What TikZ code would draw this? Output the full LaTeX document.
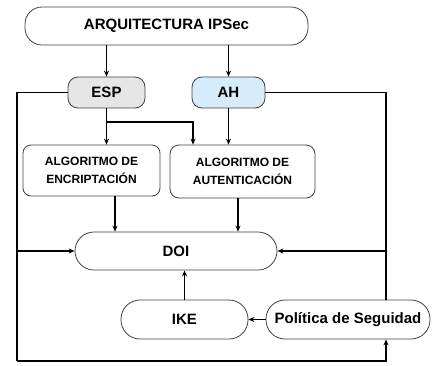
\documentclass[tikz,border=0pt]{standalone}
\usepackage{fontspec}
\setmainfont{Liberation Sans}
\usetikzlibrary{arrows.meta,calc}
\definecolor{espgray}{RGB}{230,230,230}
\definecolor{ahblue}{RGB}{214,236,250}
\tikzset{
  caja/.style={draw=black!75,line width=0.8pt,align=center,inner sep=0pt,
    font=\bfseries\fontsize{15}{16}\selectfont},
  flecha/.style={->,line width=1.6pt},
  linea/.style={line width=1.6pt}
}

\begin{document}
\begin{tikzpicture}[x=1pt,y=-1pt,>={Stealth[length=6pt,width=5pt]}]
  \useasboundingbox (0,0) rectangle (434,365);
  % ノード
  \node[caja,rounded corners=17pt,minimum width=283pt,minimum height=38pt] (ARQ) at (166.5,26) {ARQUITECTURA IPSec};
  \node[caja,rounded corners=10pt,fill=espgray,minimum width=77pt,minimum height=31pt] (ESP) at (106.5,92.5) {ESP};
  \node[caja,rounded corners=10pt,fill=ahblue,minimum width=73pt,minimum height=31pt] (AH) at (228.5,92.5) {AH};
  \node[caja,rounded corners=8pt,minimum width=137pt,minimum height=51pt,
    font=\bfseries\fontsize{12}{18}\selectfont] (ALGENC) at (91.5,170.5) {ALGORITMO DE\\ENCRIPTACIÓN};
  \node[caja,rounded corners=9pt,minimum width=145pt,minimum height=53pt,
    font=\bfseries\fontsize{12}{18}\selectfont] (ALGAUT) at (242.5,171.5) {ALGORITMO DE\\AUTENTICACIÓN};
  \node[caja,rounded corners=19pt,minimum width=202pt,minimum height=38pt] (DOI) at (176,251) {DOI};
  \node[caja,rounded corners=19pt,minimum width=127pt,minimum height=39pt] (IKE) at (184.5,319.5) {IKE};
  \node[caja,rounded corners=19pt,minimum width=164pt,minimum height=39pt] (POL) at (348,319.5) {Política de Seguidad};
  % 補助点
  \coordinate (izq) at (17,361);
  \coordinate (der) at (386,361);
  \coordinate (ram) at (193,122);
  \coordinate (encS) at ($(ALGENC.south)+(23.5,0)$);
  \coordinate (autS) at ($(ALGAUT.south)+(-4.5,0)$);
  % 矢印
  \draw[flecha] (ESP.north |- ARQ.south) -- (ESP.north);
  \draw[flecha] (AH.north |- ARQ.south) -- (AH.north);
  \draw[flecha] (ESP.south) -- (ESP.south |- ALGENC.north);
  \draw[flecha] (ESP.south |- ram) -- (ram) -- (ram |- ALGAUT.north);
  \draw[flecha] (AH.south) -- (AH.south |- ALGAUT.north);
  \draw[flecha] (encS) -- (encS |- DOI.north);
  \draw[flecha] (autS) -- (autS |- DOI.north);
  \draw[flecha] (IKE.north) -- (IKE.north |- DOI.south);
  \draw[flecha] (POL.west) -- (IKE.east);
  % 外周の線
  \draw[linea] (ESP.west) -| (izq);
  \draw[flecha] (izq) -- (der) -- (der |- POL.south);
  \draw[linea] (AH.east) -| (der |- POL.north);
  \draw[flecha] (izq |- DOI.west) -- (DOI.west);
  \draw[flecha] (der |- DOI.east) -- (DOI.east);
\end{tikzpicture}
\end{document}
